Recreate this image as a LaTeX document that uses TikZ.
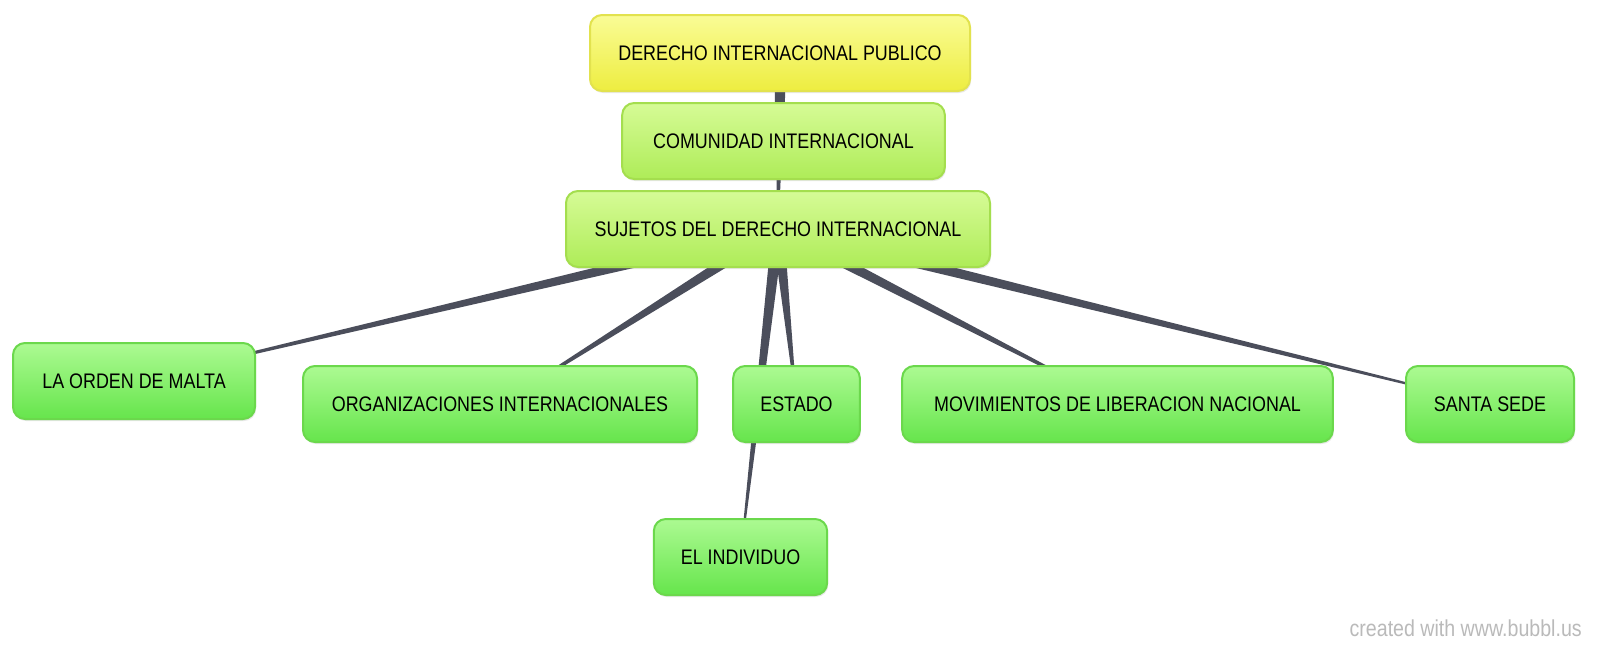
\documentclass[tikz,border=0pt]{standalone}
\usepackage{fontspec}
\newfontfamily\bubfont{Liberation Sans}[FakeStretch=0.85]
\usepackage{xcolor}
\usepackage{tikz}
\usetikzlibrary{calc,shadows}
\definecolor{linkgray}{HTML}{4B4E5B}
\definecolor{grnTop}{HTML}{ACFA92}
\definecolor{grnBot}{HTML}{66E54C}
\definecolor{grnLine}{HTML}{6BD84C}
\definecolor{limeTop}{HTML}{D6FB96}
\definecolor{limeBot}{HTML}{AEEC58}
\definecolor{limeLine}{HTML}{A4DE4E}
\definecolor{ylwTop}{HTML}{FAFC96}
\definecolor{ylwBot}{HTML}{EDED40}
\definecolor{ylwLine}{HTML}{E2E24E}
\pgfdeclarelayer{back}
\pgfsetlayers{back,main}
% tapered link: thick at the parent, thin at the child
\newcommand{\bubline}[2]{%
  \fill[linkgray] ($(#1.center)!4.5pt!90:(#2.center)$) -- ($(#2.center)!0.4pt!-90:(#1.center)$)
    -- ($(#2.center)!0.4pt!90:(#1.center)$) -- ($(#1.center)!4.5pt!-90:(#2.center)$) -- cycle;}

\begin{document}
\begin{tikzpicture}[x=0.75pt,y=-0.75pt,
bub/.style={rounded corners=9pt,line width=1.5pt,align=center,inner sep=0pt,
  minimum height=57pt,font=\bubfont\fontsize{15.8}{18}\selectfont,
  drop shadow={opacity=0.18,shadow xshift=0.8pt,shadow yshift=-1.5pt}},
green/.style={bub,draw=grnLine,top color=grnTop,bottom color=grnBot},
lime/.style={bub,draw=limeLine,top color=limeTop,bottom color=limeBot},
yellow/.style={bub,draw=ylwLine,top color=ylwTop,bottom color=ylwBot}]
\useasboundingbox (0,0) rectangle (1600,654);

\node[yellow,minimum width=285pt] (dp) at (780,53) {DERECHO INTERNACIONAL PUBLICO};
\node[lime,minimum width=242pt] (ci) at (783.5,141) {COMUNIDAD INTERNACIONAL};
\node[lime,minimum width=318pt] (sj) at (778,229) {SUJETOS DEL DERECHO INTERNACIONAL};

\node[green,minimum width=181.5pt] (ml) at (134,381) {LA ORDEN DE MALTA};
\node[green,minimum width=295.5pt] (og) at (500,404) {ORGANIZACIONES INTERNACIONALES};
\node[green,minimum width=95pt] (es) at (796.5,404) {ESTADO};
\node[green,minimum width=323pt] (mv) at (1117.5,404) {MOVIMIENTOS DE LIBERACION NACIONAL};
\node[green,minimum width=126pt] (ss) at (1490,404) {SANTA SEDE};
\node[green,minimum width=130pt] (ei) at (740.5,557) {EL INDIVIDUO};

\node[font=\bubfont\fontsize{17.3}{20}\selectfont,text=black!27,anchor=east,inner sep=0pt] (cr) at (1582,628) {created with www.bubbl.us};

\begin{pgfonlayer}{back}
\fill[white] (0,0) rectangle (1600,654);
\bubline{dp}{ci}
\bubline{dp}{sj}
\bubline{sj}{ml}
\bubline{sj}{og}
\bubline{sj}{es}
\bubline{sj}{ei}
\bubline{sj}{mv}
\bubline{sj}{ss}
\end{pgfonlayer}
\end{tikzpicture}
\end{document}
